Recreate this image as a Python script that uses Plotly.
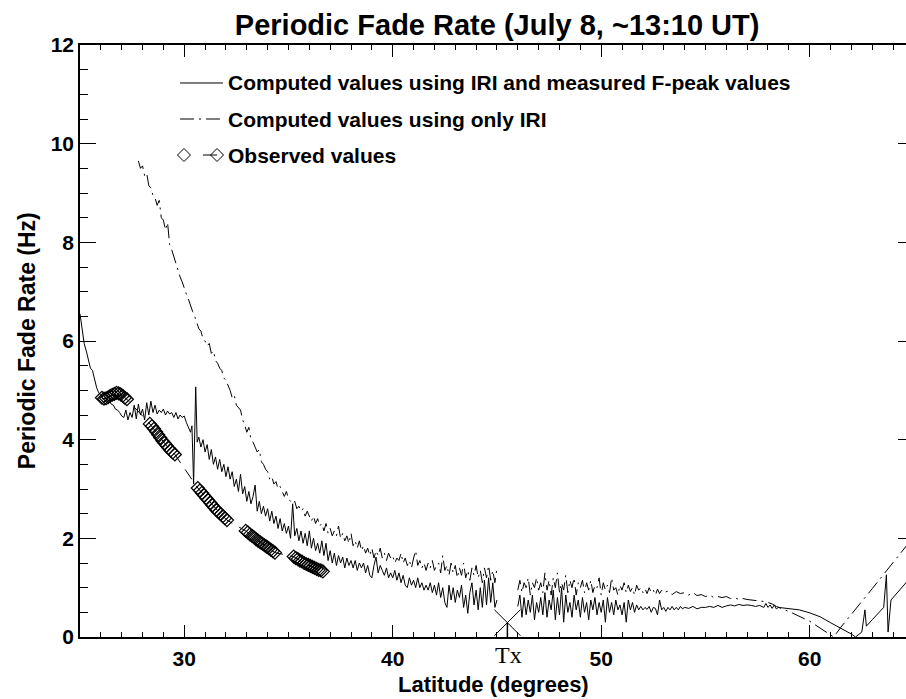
import plotly.graph_objects as go

# ---------------- data ----------------
solid_lat = [25.0, 25.1, 25.2, 25.3, 25.4, 25.5, 25.6, 25.7, 25.8, 25.9,
             26.0, 26.1, 26.2, 26.3, 26.4, 26.5, 26.6, 26.7, 26.8, 26.9,
             27.0, 27.1, 27.2, 27.3, 27.4, 27.5, 27.6, 27.7, 27.8, 27.9,
             28.0, 28.1, 28.2, 28.3, 28.4, 28.5, 28.6, 28.7, 28.8, 28.9,
             29.0, 29.1, 29.2, 29.3, 29.4, 29.5, 29.6, 29.7, 29.8, 29.9,
             30.0, 30.1, 30.2, 30.3, 30.37, 30.45, 30.55, 30.62, 30.7, 30.8,
             30.9, 31.0, 31.1, 31.2, 31.3, 31.4, 31.5, 31.6, 31.7, 31.8,
             31.9, 32.0, 32.1, 32.2, 32.3, 32.4, 32.5, 32.6, 32.7, 32.8,
             32.9, 33.0, 33.1, 33.2, 33.3, 33.4, 33.5, 33.6, 33.7, 33.8,
             33.9, 34.0, 34.1, 34.2, 34.3, 34.4, 34.5, 34.6, 34.7, 34.8,
             34.9, 35.0, 35.1, 35.2, 35.3, 35.4, 35.5, 35.6, 35.7, 35.8,
             35.9, 36.0, 36.1, 36.2, 36.3, 36.4, 36.5, 36.6, 36.7, 36.8,
             36.9, 37.0, 37.1, 37.2, 37.3, 37.4, 37.5, 37.6, 37.7, 37.8,
             37.9, 38.0, 38.1, 38.2, 38.3, 38.4, 38.5, 38.6, 38.7, 38.8,
             38.9, 39.0, 39.1, 39.2, 39.3, 39.4, 39.5, 39.6, 39.7, 39.8,
             39.9, 40.0, 40.1, 40.2, 40.3, 40.4, 40.5, 40.6, 40.7, 40.8,
             40.9, 41.0, 41.1, 41.2, 41.3, 41.4, 41.5, 41.6, 41.7, 41.8,
             41.9, 42.0, 42.1, 42.2, 42.3, 42.4, 42.5, 42.6, 42.7, 42.8,
             42.9, 43.0, 43.1, 43.2, 43.3, 43.4, 43.5, 43.6, 43.7, 43.8,
             43.9, 44.0, 44.1, 44.2, 44.3, 44.4, 44.5, 44.6, 44.7, 44.8,
             44.9, 45.0, 45.5,
             46.0, 46.1, 46.2, 46.3, 46.4, 46.5, 46.6, 46.7, 46.8, 46.9,
             47.0, 47.1, 47.2, 47.3, 47.4, 47.5, 47.6, 47.7, 47.8, 47.9,
             48.0, 48.1, 48.2, 48.3, 48.4, 48.5, 48.6, 48.7, 48.8, 48.9,
             49.0, 49.1, 49.2, 49.3, 49.4, 49.5, 49.6, 49.7, 49.8, 49.9,
             50.0, 50.1, 50.2, 50.3, 50.4, 50.5, 50.6, 50.7, 50.8, 50.9,
             51.0, 51.1, 51.2, 51.3, 51.4, 51.5, 51.6, 51.7, 51.8, 51.9,
             52.0, 52.1, 52.2, 52.3, 52.4, 52.5, 52.6, 52.7, 52.8, 52.9,
             53.0, 53.1, 53.2, 53.3, 53.4, 53.5, 53.6, 53.7, 53.8, 53.9,
             54.0, 54.2, 54.4, 54.6, 54.8, 55.0, 55.2, 55.4, 55.6, 55.8,
             56.0, 56.2, 56.4, 56.6, 56.8, 57.0, 57.2, 57.4, 57.6, 57.8,
             57.9, 58.0, 58.1, 58.2, 58.3, 58.4, 58.5, 58.7, 59.0, 59.5,
             60.0, 60.5, 61.0, 61.5, 62.0, 62.2, 62.5, 62.65, 62.72, 63.0,
             63.3, 63.55, 63.68, 63.76, 63.9, 64.2, 64.7]
solid_rate = [6.55, 6.2, 5.95, 5.8, 5.6, 5.45, 5.4, 5.2, 5.05, 4.95,
              4.9, 4.82, 4.85, 4.78, 4.8, 4.72, 4.7, 4.62, 4.6, 4.55,
              4.48, 4.45, 4.6, 4.4, 4.55, 4.45, 4.7, 4.42, 4.72, 4.5,
              4.62, 4.4, 4.75, 4.5, 4.78, 4.55, 4.7, 4.52, 4.6, 4.55,
              4.62, 4.5, 4.58, 4.52, 4.55, 4.45, 4.55, 4.42, 4.5, 4.45,
              4.48, 4.35, 4.25, 4.15, 4.28, 3.1, 5.07, 3.95, 4.05, 3.85,
              4.0, 3.75, 3.9, 3.6, 3.8, 3.5, 3.65, 3.4, 3.6, 3.35,
              3.5, 3.25, 3.45, 3.2, 3.35, 3.05, 3.2, 2.95, 3.3, 2.9,
              3.05, 2.75, 2.95, 2.7, 2.85, 3.08, 2.55, 2.75, 2.5, 2.65,
              2.45, 2.6, 2.35, 2.55, 2.3, 2.45, 2.2, 2.4, 2.15, 2.3,
              2.1, 2.25, 2.0, 2.7, 2.05, 2.2, 1.95, 2.15, 1.9, 2.1,
              1.85, 2.15, 1.8, 2.0, 1.75, 1.9, 1.7, 1.95, 1.65, 1.9,
              1.55, 1.75, 1.5, 1.7, 1.45, 1.65, 1.5, 1.62, 1.4, 1.6,
              1.45, 1.55, 1.4, 1.55, 1.35, 1.5, 1.4, 1.5, 1.3, 1.45,
              1.25, 1.2, 1.45, 1.62, 1.3, 1.45, 1.35, 1.25, 1.4, 1.2,
              1.3, 1.2, 1.35, 1.15, 1.3, 1.1, 1.25, 1.05, 1.0, 1.2,
              1.05, 1.15, 1.0, 1.2, 1.0, 1.1, 0.95, 1.05, 0.95, 1.1,
              0.9, 1.05, 0.85, 1.1, 0.8, 1.0, 0.7, 0.6, 1.05, 0.75,
              1.0, 0.7, 0.95, 0.8, 1.05, 0.6, 0.85, 0.48, 0.9, 1.1,
              0.65, 0.95, 0.55, 1.0, 0.6, 1.15, 0.65, 1.2, 0.7, 1.1,
              0.6, 0.75, None,
              0.62, 0.85, 0.4, 0.8, 0.45, 0.75, 0.5, 0.85, 0.35, 0.7,
              0.5, 0.8, 0.45, 0.9, 0.4, 0.75, 0.55, 0.95, 0.35, 0.8,
              0.45, 1.0, 0.3, 0.85, 0.5, 0.7, 0.4, 0.85, 0.55, 0.75,
              0.4, 0.8, 0.5, 0.7, 0.35, 0.75, 0.55, 0.8, 0.45, 0.7,
              0.5, 0.75, 0.3, 0.8, 0.5, 0.7, 0.45, 0.75, 0.55, 0.65,
              0.45, 0.7, 0.3, 0.75, 0.55, 0.7, 0.5, 0.65, 0.55, 0.62,
              0.55, 0.6, 0.56, 0.62, 0.5, 0.6, 0.58, 0.45, 0.75, 0.55,
              0.6, 0.52, 0.6, 0.55, 0.62, 0.55, 0.6, 0.55, 0.62, 0.57,
              0.6, 0.58, 0.62, 0.57, 0.6, 0.6, 0.62, 0.6, 0.64, 0.6,
              0.63, 0.65, 0.63, 0.66, 0.64, 0.65, 0.64, 0.62, 0.64, 0.6,
              0.68, 0.6, 0.65, 0.58, 0.65, 0.57, 0.6, 0.59, 0.58, 0.55,
              0.49, 0.41, 0.29, 0.18, 0.06, 0.0, 0.1, 0.55, 0.22, 0.35,
              0.48, 0.6, 1.26, 0.1, 0.75, 0.9, 1.14]

iri_lat = [27.8, 27.9, 28.0, 28.1, 28.2, 28.3, 28.4, 28.5, 28.6, 28.7,
           28.8, 28.9, 29.0, 29.1, 29.2, 29.3, 29.4, 29.5, 29.6, 29.7,
           29.8, 29.9, 30.0, 30.1, 30.2, 30.3, 30.4, 30.5, 30.6, 30.7,
           30.8, 30.9, 31.0, 31.1, 31.2, 31.3, 31.4, 31.5, 31.6, 31.7,
           31.8, 31.9, 32.0, 32.1, 32.2, 32.3, 32.4, 32.5, 32.6, 32.7,
           32.8, 32.9, 33.0, 33.1, 33.2, 33.3, 33.4, 33.5, 33.6, 33.7,
           33.8, 33.9, 34.0, 34.1, 34.2, 34.3, 34.4, 34.5, 34.6, 34.7,
           34.8, 34.9, 35.0, 35.1, 35.2, 35.3, 35.4, 35.5, 35.6, 35.7,
           35.8, 35.9, 36.0, 36.1, 36.2, 36.3, 36.4, 36.5, 36.6, 36.7,
           36.8, 36.9, 37.0, 37.1, 37.2, 37.3, 37.4, 37.5, 37.6, 37.7,
           37.8, 37.9, 38.0, 38.1, 38.2, 38.3, 38.4, 38.5, 38.6, 38.7,
           38.8, 38.9, 39.0, 39.1, 39.2, 39.3, 39.4, 39.5, 39.6, 39.7,
           39.8, 39.9, 40.0, 40.1, 40.2, 40.3, 40.4, 40.5, 40.6, 40.7,
           40.8, 40.9, 41.0, 41.1, 41.2, 41.3, 41.4, 41.5, 41.6, 41.7,
           41.8, 41.9, 42.0, 42.1, 42.2, 42.3, 42.4, 42.5, 42.6, 42.7,
           42.8, 42.9, 43.0, 43.1, 43.2, 43.3, 43.4, 43.5, 43.6, 43.7,
           43.8, 43.9, 44.0, 44.1, 44.2, 44.3, 44.4, 44.5, 44.6, 44.7,
           44.8, 44.9, 45.0, 45.5,
           46.0, 46.1, 46.2, 46.3, 46.4, 46.5, 46.6, 46.7, 46.8, 46.9,
           47.0, 47.1, 47.2, 47.3, 47.4, 47.5, 47.6, 47.7, 47.8, 47.9,
           48.0, 48.1, 48.2, 48.3, 48.4, 48.5, 48.6, 48.7, 48.8, 48.9,
           49.0, 49.1, 49.2, 49.3, 49.4, 49.5, 49.6, 49.7, 49.8, 49.9,
           50.0, 50.1, 50.2, 50.3, 50.4, 50.5, 50.6, 50.7, 50.8, 50.9,
           51.0, 51.1, 51.2, 51.3, 51.4, 51.5, 51.6, 51.7, 51.8, 51.9,
           52.0, 52.1, 52.2, 52.3, 52.4, 52.5, 52.6, 52.7, 52.8, 52.9,
           53.0, 53.2, 53.4, 53.6, 53.8, 54.0, 54.2, 54.4, 54.6, 54.8,
           55.0, 55.2, 55.4, 55.6, 55.8, 56.0, 56.2, 56.4, 56.6, 56.8,
           57.0, 57.2, 57.4, 57.6, 57.8, 58.0, 58.2, 58.4, 58.6, 58.8,
           59.0, 59.5, 60.0, 60.5, 61.0, 61.15, 61.5, 62.0, 62.5, 63.0,
           63.5, 64.0, 64.5, 64.7]
iri_rate = [9.65, 9.5, 9.55, 9.35, 9.4, 9.15, 9.1, 8.95, 8.9, 8.75,
            8.85, 8.5, 8.45, 8.25, 8.4, 7.95, 7.85, 7.7, 7.55, 7.45,
            7.3, 7.2, 7.05, 6.95, 6.85, 6.7, 6.6, 6.5, 6.35, 6.25,
            6.2, 6.05, 6.0, 5.9, 5.95, 5.75, 5.8, 5.6, 5.55, 5.45,
            5.4, 5.25, 5.2, 5.1, 5.0, 4.85, 4.9, 4.7, 4.65, 4.6,
            4.4, 4.3, 4.15, 4.25, 4.0, 3.95, 3.85, 3.75, 3.8, 3.55,
            3.5, 3.4, 3.35, 3.2, 3.25, 3.1, 3.15, 3.0, 3.05, 2.95,
            2.85, 2.95, 2.8, 2.75, 2.7, 2.75, 2.6, 2.65, 2.55, 2.6,
            2.45, 2.55, 2.45, 2.35, 2.45, 2.3, 2.4, 2.25, 2.3, 2.15,
            2.3, 2.1, 2.2, 2.05, 2.15, 2.05, 2.25, 2.0, 2.1, 1.95,
            2.05, 1.9, 2.1, 1.85, 1.95, 1.8, 1.95, 1.75, 1.85, 1.7,
            1.8, 1.65, 1.8, 1.6, 1.75, 1.65, 1.8, 1.6, 1.7, 1.55,
            1.7, 1.6, 1.65, 1.5, 1.6, 1.55, 1.7, 1.5, 1.6, 1.45,
            1.55, 1.4, 1.6, 1.75, 1.45, 1.55, 1.4, 1.5, 1.35, 1.5,
            1.4, 1.55, 1.35, 1.45, 1.5, 1.3, 1.65, 1.35, 1.45, 1.25,
            1.5, 1.3, 1.45, 1.2, 1.4, 1.25, 1.5, 1.2, 1.35, 1.15,
            1.4, 1.25, 1.45, 1.2, 1.35, 1.1, 1.4, 1.2, 1.45, 1.15,
            1.35, 1.1, 1.4, None,
            0.95, 1.15, 0.9, 1.1, 1.0, 1.2, 0.85, 1.1, 1.0, 1.2,
            0.95, 1.1, 0.9, 1.3, 0.95, 1.15, 0.85, 1.2, 1.0, 1.3,
            0.9, 1.1, 0.95, 1.25, 0.9, 1.15, 1.0, 1.2, 0.85, 1.1,
            1.0, 1.15, 0.9, 1.1, 0.95, 1.15, 0.9, 1.05, 1.0, 1.2,
            0.85, 1.1, 0.95, 1.05, 0.9, 1.2, 0.95, 1.0, 0.85, 1.05,
            0.95, 1.1, 0.9, 1.05, 0.92, 1.0, 0.85, 1.05, 0.95, 1.0,
            0.9, 0.98, 0.88, 1.0, 0.9, 0.95, 0.85, 0.97, 0.88, 0.95,
            0.9, 0.93, 0.86, 0.92, 0.88, 0.9, 0.85, 0.9, 0.84, 0.86,
            0.82, 0.85, 0.8, 0.82, 0.8, 0.82, 0.78, 0.8, 0.76, 0.78,
            0.76, 0.75, 0.74, 0.74, 0.72, 0.7, 0.67, 0.62, 0.58, 0.55,
            0.52, 0.42, 0.32, 0.18, 0.03, 0.0, 0.2, 0.45, 0.72, 0.98,
            1.25, 1.52, 1.78, 1.88]

obs_lat = [26.05, 26.15, 26.25, 26.35, 26.45, 26.55, 26.65, 26.75, 26.85, 26.95, 27.05, 27.15, 27.25,
           28.35, 28.45, 28.55, 28.65, 28.75, 28.85, 28.95, 29.05, 29.15, 29.25, 29.35, 29.45, 29.55,
           30.65, 30.75, 30.85, 30.95, 31.05, 31.15, 31.25, 31.35, 31.45, 31.55, 31.65, 31.75, 31.85, 31.95, 32.05,
           32.95, 33.05, 33.15, 33.25, 33.35, 33.45, 33.55, 33.65, 33.75, 33.85, 33.95, 34.05, 34.15, 34.25, 34.35,
           35.25, 35.35, 35.45, 35.55, 35.65, 35.75, 35.85, 35.95, 36.05, 36.15, 36.25, 36.35, 36.45, 36.55, 36.65]
obs_rate = [4.85, 4.83, 4.84, 4.86, 4.89, 4.91, 4.93, 4.95, 4.94, 4.92, 4.89, 4.85, 4.82,
            4.32, 4.27, 4.22, 4.16, 4.1, 4.04, 3.98, 3.93, 3.88, 3.83, 3.78, 3.74, 3.7,
            3.02, 2.97, 2.92, 2.87, 2.82, 2.77, 2.72, 2.67, 2.62, 2.57, 2.53, 2.49, 2.45, 2.41, 2.37,
            2.15, 2.12, 2.08, 2.05, 2.02, 1.98, 1.95, 1.92, 1.89, 1.86, 1.83, 1.8, 1.77, 1.74, 1.71,
            1.63, 1.6, 1.58, 1.55, 1.53, 1.5, 1.48, 1.46, 1.44, 1.42, 1.4, 1.38, 1.36, 1.35, 1.33]

tx_lat = [45.5]
tx_rate = [0.29]

legend_labels = ["Computed values using IRI and measured F-peak values",
                 "Computed values using only IRI",
                 "Observed values"]

x_ticks = [30, 40, 50, 60]
y_ticks = [0, 2, 4, 6, 8, 10, 12]

# ---------------- figure ----------------
FONT = "Liberation Sans, Arial, Helvetica, sans-serif"
black = "black"
fig = go.Figure()

fig.add_trace(go.Scatter(x=solid_lat, y=solid_rate, mode="lines",
                         line=dict(color=black, width=1), showlegend=False, hoverinfo="skip"))
fig.add_trace(go.Scatter(x=iri_lat, y=iri_rate, mode="lines",
                         line=dict(color=black, width=1, dash="14px,5px,2px,5px"),
                         showlegend=False, hoverinfo="skip"))
fig.add_trace(go.Scatter(x=obs_lat, y=obs_rate, mode="lines+markers",
                         line=dict(color=black, width=1, dash="12px,8px"),
                         marker=dict(symbol="diamond-open", size=10, color=black,
                                     line=dict(width=1.2, color=black)),
                         showlegend=False, hoverinfo="skip"))
# Tx marker
fig.add_trace(go.Scatter(x=tx_lat, y=tx_rate, mode="markers",
                         marker=dict(symbol="x-thin-open", size=26, color=black,
                                     line=dict(width=1, color=black)),
                         showlegend=False, hoverinfo="skip", cliponaxis=False))
fig.add_trace(go.Scatter(x=[tx_lat[0], tx_lat[0]], y=[0, tx_rate[0]], mode="lines",
                         line=dict(color=black, width=1.5), showlegend=False, hoverinfo="skip"))

# ---- manual legend on overlay axes (x2: 0..1 fraction of plot width, y2: same units as y) ----
leg_y = [11.23, 10.5, 9.77]
leg_x0, leg_x1, leg_tx = 0.1211, 0.1731, 0.177
fig.add_trace(go.Scatter(x=[leg_x0, leg_x1], y=[leg_y[0]] * 2, xaxis="x2", yaxis="y2", mode="lines",
                         line=dict(color=black, width=1), showlegend=False, hoverinfo="skip"))
fig.add_trace(go.Scatter(x=[leg_x0, leg_x1], y=[leg_y[1]] * 2, xaxis="x2", yaxis="y2", mode="lines",
                         line=dict(color=black, width=1, dash="14px,5px,2px,5px"),
                         showlegend=False, hoverinfo="skip"))
fig.add_trace(go.Scatter(x=[0.1259], y=[leg_y[2]], xaxis="x2", yaxis="y2", mode="markers",
                         marker=dict(symbol="diamond-open", size=10, color=black, line=dict(width=1, color=black)),
                         showlegend=False, hoverinfo="skip"))
fig.add_trace(go.Scatter(x=[0.1489, 0.1659], y=[leg_y[2]] * 2, xaxis="x2", yaxis="y2", mode="lines",
                         line=dict(color=black, width=1), showlegend=False, hoverinfo="skip"))
fig.add_trace(go.Scatter(x=[0.1659], y=[leg_y[2]], xaxis="x2", yaxis="y2", mode="markers",
                         marker=dict(symbol="diamond-open", size=10, color=black, line=dict(width=1, color=black)),
                         showlegend=False, hoverinfo="skip"))

annotations = []
for lbl, yy in zip(legend_labels, leg_y):
    annotations.append(dict(x=leg_tx, y=yy, xref="x2", yref="y2", text=lbl, showarrow=False,
                            xanchor="left", yanchor="middle",
                            font=dict(family=FONT, size=21, color=black, weight="bold")))
annotations.append(dict(x=tx_lat[0] + 0.05, y=-0.031, xref="x", yref="paper", text="Tx", showarrow=False,
                        xanchor="center", yanchor="middle",
                        font=dict(family="Liberation Serif, Times New Roman, serif", size=24, color=black)))
annotations.append(dict(x=0.5, y=-0.081, xref="paper", yref="paper", text="Latitude (degrees)",
                        showarrow=False, xanchor="center", yanchor="middle",
                        font=dict(family=FONT, size=22, color=black, weight="bold")))
annotations.append(dict(x=-0.064, y=0.5, xref="paper", yref="paper", text="Periodic Fade Rate (Hz)",
                        showarrow=False, xanchor="center", yanchor="middle", textangle=-90,
                        font=dict(family=FONT, size=23, color=black, weight="bold")))

tickfont = dict(family=FONT, size=21, color=black, weight="bold")

fig.update_layout(
    width=906, height=699,
    margin=dict(l=80, r=0, t=45, b=62),
    paper_bgcolor="white", plot_bgcolor="white",
    showlegend=False,
    title=dict(text="Periodic Fade Rate (July 8, ~13:10 UT)", x=0.505, xref="paper",
               y=1 - 25 / 699, yref="container", xanchor="center", yanchor="middle",
               font=dict(family=FONT, size=29, color=black, weight="bold")),
    xaxis=dict(range=[25, 64.62], tickvals=x_ticks, ticktext=[str(v) for v in x_ticks],
               ticks="inside", ticklen=12, tickwidth=1, tickcolor=black,
               minor=dict(dtick=1, tick0=25, ticks="inside", ticklen=5, tickwidth=1, tickcolor=black),
               showline=True, linecolor=black, linewidth=1.5, mirror="ticks",
               showgrid=False, zeroline=False, tickfont=tickfont, ticklabelstandoff=2),
    yaxis=dict(range=[0, 12], tickvals=y_ticks, ticktext=[str(v) for v in y_ticks],
               ticks="inside", ticklen=16, tickwidth=1, tickcolor=black,
               minor=dict(dtick=0.5, tick0=0, ticks="inside", ticklen=8, tickwidth=1, tickcolor=black),
               showline=True, linecolor=black, linewidth=1.5, mirror=False,
               showgrid=False, zeroline=False, tickfont=tickfont, ticklabelstandoff=0),
    xaxis2=dict(range=[0, 1], overlaying="x", visible=False, showgrid=False, zeroline=False),
    yaxis2=dict(range=[0, 12], overlaying="y", side="right", tickvals=y_ticks, ticks="inside",
                ticklen=8, tickwidth=1, tickcolor=black, showticklabels=False,
                showline=False, showgrid=False, zeroline=False),
    annotations=annotations,
)

fig.write_html("out.html", config={"displayModeBar": False},
               post_script="document.body.style.margin='0px';")
